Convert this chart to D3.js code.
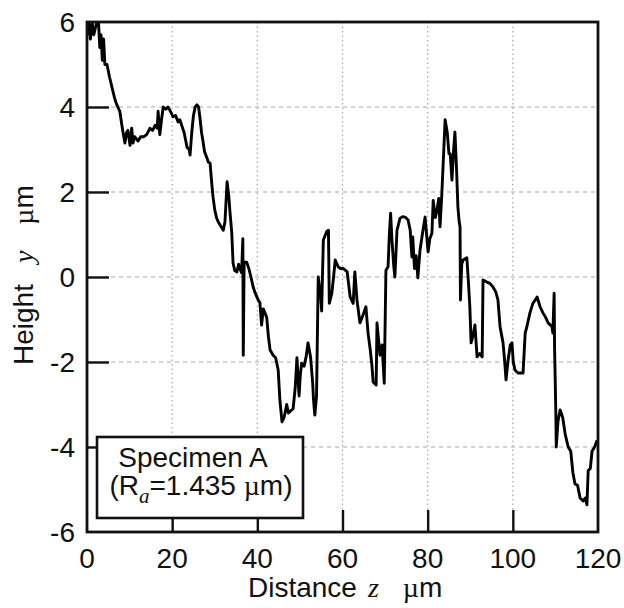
<!DOCTYPE html>
<html>
<head>
<meta charset="utf-8">
<script src="https://cdn.jsdelivr.net/npm/d3@7"></script>
<style>
    body { margin: 0; background: #fff; }
    text { font-family: "Liberation Sans", Arial, Helvetica, sans-serif; fill: #111; }
    .serif { font-family: "Liberation Serif", "Times New Roman", serif; }
</style>
</head>
<body>
<div id="chart"></div>
<script>
// Profile (distance z in um, height y in um)
var distance = [
    0, 0.4, 0.8, 1.2, 1.6, 2.3, 2.7, 3.0, 3.3, 3.6, 3.9, 4.2, 4.7, 5.3, 5.9, 6.5, 7.0, 7.7, 8.3, 8.9,
    9.3, 9.6, 10.1, 10.5, 10.8, 11.2, 12.0, 12.6, 13.3, 14.0, 14.8, 15.4, 16.0, 16.5, 16.7, 17.1, 17.5, 17.9, 18.5, 19.0,
    19.6, 20.2, 20.8, 21.4, 21.8, 22.3, 22.8, 23.2, 23.5, 24.0, 24.2, 24.6, 25.0, 25.4, 25.8, 26.2, 26.5, 26.9, 27.2, 27.6,
    28.1, 28.5, 28.9, 29.3, 29.6, 30.0, 30.4, 30.8, 31.4, 32.0, 32.4, 32.9, 33.3, 33.6, 34.0, 34.3, 34.7, 35.2, 35.6, 35.9,
    36.3, 36.6, 36.7, 36.9, 37.5, 38.0, 38.5, 39.0, 39.5, 40.2, 40.6, 41.0, 41.4, 41.8, 42.2, 42.6, 43.0, 43.7, 44.3, 44.9,
    45.3, 45.8, 46.3, 46.9, 47.3, 47.8, 48.4, 48.9, 49.3, 49.8, 50.1, 50.4, 51.0, 51.5, 51.9, 52.5, 53.0, 53.2, 53.5, 53.9,
    54.3, 54.9, 55.1, 55.5, 56.3, 56.7, 56.9, 57.5, 57.9, 58.3, 59.0, 59.5, 60.2, 61.1, 61.8, 62.5, 62.9, 63.4, 64.1, 64.8,
    65.5, 66.0, 66.5, 66.9, 67.2, 67.9, 68.1, 68.8, 69.3, 69.8, 70.2, 70.7, 71.0, 71.3, 71.6, 72.0, 72.3, 72.8, 73.5, 74.1,
    74.7, 75.4, 75.9, 76.3, 76.5, 76.9, 77.3, 77.7, 78.2, 78.9, 79.4, 80.1, 80.5, 81.0, 81.3, 81.8, 82.2, 82.6, 82.9, 83.3,
    83.7, 84.1, 84.6, 85.0, 85.3, 85.7, 86.1, 86.4, 86.8, 87.1, 87.4, 87.6, 87.7, 88.0, 88.3, 89.2, 89.5, 89.9, 90.2, 90.6,
    91.1, 91.6, 92.2, 92.8, 93.0, 93.9, 94.6, 95.3, 96.0, 96.5, 97.0, 97.7, 98.1, 98.4, 98.9, 99.4, 99.8, 100.1, 100.5, 101.2,
    102.4, 102.9, 103.3, 104.0, 104.7, 105.2, 105.7, 106.4, 107.1, 107.7, 108.3, 109.2, 109.4, 109.7, 109.8, 110.1, 110.2, 110.6, 111.1, 111.7,
    112.3, 113.0, 113.6, 114.1, 114.6, 115.2, 115.8, 116.5, 117.0, 117.4, 117.7, 118.2, 118.6, 119.2, 119.8
];

var height = [
    5.7, 6.0, 5.6, 6.0, 5.7, 6.0, 6.0, 5.4, 5.7, 5.1, 5.6, 5.0, 5.0, 4.7, 4.45, 4.2, 4.05, 3.9, 3.5, 3.15,
    3.4, 3.45, 3.1, 3.5, 3.15, 3.3, 3.2, 3.3, 3.3, 3.35, 3.5, 3.45, 3.57, 3.5, 3.9, 3.35, 3.7, 4.0, 3.95, 4.0,
    3.9, 3.77, 3.8, 3.65, 3.7, 3.55, 3.4, 3.2, 3.05, 3.0, 2.87, 3.4, 3.8, 4.0, 4.05, 4.0, 3.77, 3.4, 3.22, 2.95,
    2.82, 2.7, 2.68, 2.2, 1.88, 1.58, 1.4, 1.3, 1.2, 1.1, 1.3, 2.24, 1.9, 1.5, 1.03, 0.33, 0.15, 0.12, 0.3, 0.2,
    0.1, 0.9, -1.84, 0.35, 0.35, 0.2, 0.0, -0.23, -0.38, -0.54, -0.6, -1.13, -0.75, -0.85, -0.95, -1.4, -1.72, -1.84, -1.9, -2.19,
    -2.9, -3.41, -3.3, -3.0, -3.2, -3.15, -3.1, -2.6, -1.9, -2.8, -2.3, -2.03, -2.1, -1.85, -1.55, -1.88, -2.5, -2.9, -3.25, -2.8,
    0.0, -0.47, -0.8, 0.87, 1.07, 1.1, -0.62, -0.38, 0.0, 0.4, 0.24, 0.2, 0.2, 0.12, -0.47, -0.62, 0.12, -0.54, -1.08, -0.9,
    -0.7, -1.32, -1.7, -2.07, -2.47, -2.54, -1.08, -1.84, -1.6, -2.5, 0.16, 0.24, 1.0, 1.5, 0.9, 0.3, 0.0, 1.1, 1.38, 1.42,
    1.41, 1.34, 1.1, 0.47, 0.94, 0.2, 0.5, -0.02, 0.63, 1.1, 1.41, 0.59, 0.9, 1.03, 1.8, 1.4, 1.58, 1.85, 1.18, 1.9,
    2.8, 3.7, 3.4, 2.9, 2.9, 2.28, 3.0, 3.41, 2.5, 1.65, 1.3, 1.18, -0.54, 0.3, 0.4, 0.45, 0.0, -0.7, -1.55, -1.4,
    -1.13, -1.88, -1.8, -1.88, -0.07, -0.12, -0.15, -0.23, -0.35, -0.54, -1.17, -1.55, -2.0, -2.42, -1.95, -1.6, -1.55, -2.0, -2.19, -2.26,
    -2.26, -1.32, -1.17, -0.85, -0.62, -0.55, -0.47, -0.7, -0.85, -0.95, -1.08, -1.17, -1.32, -0.38, -1.64, -3.2, -4.0, -3.4, -3.13, -3.3,
    -3.7, -4.0, -4.1, -4.6, -4.87, -4.9, -5.2, -5.27, -5.2, -5.36, -4.56, -4.5, -4.1, -4.0, -3.84
];

var xTicks = [0, 20, 40, 60, 80, 100, 120];
var yTicks = [-6, -4, -2, 0, 2, 4, 6];
var xDomain = [0, 120];
var yDomain = [-6, 6];

var specimenName = "Specimen A";
var roughness = "1.435";

var width = 511, heightPx = 510;
var margin = {top: 22, right: 26, bottom: 76, left: 87};

var svg = d3.select("#chart")
    .append("svg")
    .attr("width", width + margin.left + margin.right)
    .attr("height", heightPx + margin.top + margin.bottom)
    .append("g")
    .attr("transform", "translate(" + margin.left + "," + margin.top + ")");

var x = d3.scaleLinear().domain(xDomain).range([0, width]);
var y = d3.scaleLinear().domain(yDomain).range([heightPx, 0]);

// Grid
svg.append("g")
    .selectAll("line")
    .data(xTicks.slice(1, -1))
    .enter()
    .append("line")
    .attr("x1", d => x(d)).attr("x2", d => x(d))
    .attr("y1", 0).attr("y2", heightPx)
    .attr("stroke", "#a8a8a8")
    .attr("stroke-width", 1.2)
    .attr("stroke-dasharray", "1.5,3");

svg.append("g")
    .selectAll("line")
    .data(yTicks.slice(1, -1))
    .enter()
    .append("line")
    .attr("x1", 0).attr("x2", width)
    .attr("y1", d => y(d)).attr("y2", d => y(d))
    .attr("stroke", "#a8a8a8")
    .attr("stroke-width", 1.2)
    .attr("stroke-dasharray", "4,4");

// Inner ticks
var xAxis = d3.axisBottom(x).tickValues(xTicks.slice(1, -1)).tickSize(-22).tickFormat("");
var yAxis = d3.axisLeft(y).tickValues(yTicks.slice(1, -1)).tickSize(-22).tickFormat("");

svg.append("g")
    .attr("transform", "translate(0," + heightPx + ")")
    .call(xAxis)
    .call(g => g.select(".domain").remove())
    .selectAll("line").attr("stroke", "#111").attr("stroke-width", 2.4);

svg.append("g")
    .call(yAxis)
    .call(g => g.select(".domain").remove())
    .selectAll("line").attr("stroke", "#111").attr("stroke-width", 2.4);

// Tick labels
svg.append("g")
    .selectAll("text")
    .data(xTicks)
    .enter()
    .append("text")
    .attr("x", d => x(d))
    .attr("y", heightPx + 36)
    .attr("text-anchor", "middle")
    .attr("font-size", "28px")
    .text(d => d);

svg.append("g")
    .selectAll("text")
    .data(yTicks)
    .enter()
    .append("text")
    .attr("x", -12)
    .attr("y", d => y(d))
    .attr("dy", "0.36em")
    .attr("text-anchor", "end")
    .attr("font-size", "28px")
    .text(d => d);

// Profile line
svg.append("clipPath")
    .attr("id", "plot-clip")
    .append("rect")
    .attr("width", width)
    .attr("height", heightPx);

var line = d3.line()
    .x(d => x(d[0]))
    .y(d => y(d[1]));

svg.append("path")
    .datum(d3.zip(distance, height))
    .attr("clip-path", "url(#plot-clip)")
    .attr("fill", "none")
    .attr("stroke", "#000")
    .attr("stroke-width", 2.9)
    .attr("stroke-linejoin", "round")
    .attr("d", line);

// Frame
svg.append("rect")
    .attr("width", width)
    .attr("height", heightPx)
    .attr("fill", "none")
    .attr("stroke", "#111")
    .attr("stroke-width", 2.8);

// Legend box
var legend = svg.append("g")
    .attr("transform", "translate(10," + (heightPx - 95) + ")");

legend.append("rect")
    .attr("width", 206)
    .attr("height", 81)
    .attr("fill", "#fff")
    .attr("stroke", "#111")
    .attr("stroke-width", 2.6);

legend.append("text")
    .attr("x", 96)
    .attr("y", 30)
    .attr("text-anchor", "middle")
    .attr("font-size", "28px")
    .text(specimenName);

var ra = legend.append("text")
    .attr("x", 104)
    .attr("y", 58)
    .attr("text-anchor", "middle")
    .attr("font-size", "28px");
ra.append("tspan").text("(R");
ra.append("tspan").attr("class", "serif").attr("font-style", "italic")
    .attr("font-size", "21px").attr("dy", 8).text("a");
ra.append("tspan").attr("dy", -8).text("=" + roughness + " ");
ra.append("tspan").attr("class", "serif").text("\u00b5");
ra.append("tspan").text("m)");

// Axis titles
var xTitle = svg.append("text")
    .attr("x", 161)
    .attr("y", heightPx + 65)
    .attr("font-size", "28px");
xTitle.append("tspan").text("Distance");
xTitle.append("tspan").attr("class", "serif").attr("font-style", "italic").attr("dx", 11).text("z");
xTitle.append("tspan").attr("class", "serif").attr("dx", 24).text("\u00b5");
xTitle.append("tspan").text("m");

var yTitle = svg.append("text")
    .attr("transform", "translate(-54," + (365 - margin.top) + ") rotate(-90)")
    .attr("font-size", "28px");
yTitle.append("tspan").text("Height");
yTitle.append("tspan").attr("class", "serif").attr("font-style", "italic").attr("dx", 21).text("y");
yTitle.append("tspan").attr("class", "serif").attr("dx", 26).text("\u00b5");
yTitle.append("tspan").text("m");
</script>
</body>
</html>
